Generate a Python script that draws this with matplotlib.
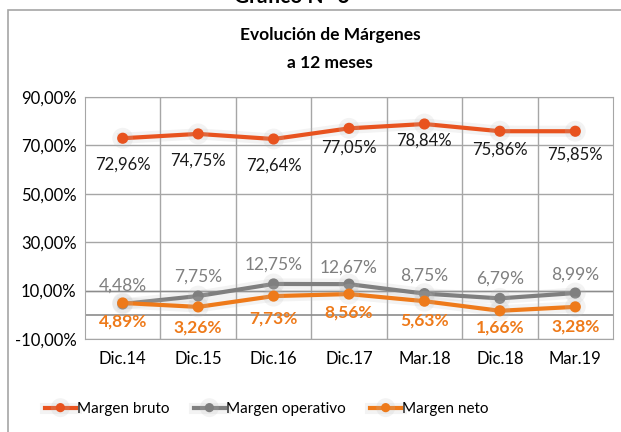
import matplotlib.pyplot as plt
import matplotlib.patheffects as pe
from matplotlib.patches import Rectangle

plt.rcParams['font.family'] = ['Lato', 'DejaVu Sans']

# margins at 12 months, in percent
periodos = ["Dic.14", "Dic.15", "Dic.16", "Dic.17", "Mar.18", "Dic.18", "Mar.19"]
bruto = [72.96, 74.75, 72.64, 77.05, 78.84, 75.86, 75.85]
operativo = [4.48, 7.75, 12.75, 12.67, 8.75, 6.79, 8.99]
neto = [4.89, 3.26, 7.73, 8.56, 5.63, 1.66, 3.28]
yticks = [-10, 10, 30, 50, 70, 90]

# label offsets (points) under / over each marker
off_bruto = [-19, -19, -19, -14, -12, -13, -17]
off_oper = [13, 14, 14, 12, 13, 14, 13]
off_neto = [-13, -15, -16, -13, -14, -12, -14]

c_bruto = "#E8531F"
c_oper = "#7F7F7F"
c_neto = "#EE7A1A"

def fmt(v):
    return ("%.2f%%" % v).replace(".", ",")

fig = plt.figure(figsize=(6.21, 4.32), dpi=100)

# outer frame of the chart object
fig.patches.append(Rectangle((8 / 621, -0.1), 1.2, 1.1 - 10 / 432,
                             transform=fig.transFigure, fill=False,
                             edgecolor="#A6A6A6", linewidth=1.2))

fig.text(0.47, 1 - 3 / 432, "Gráfico N° 6", ha="center", va="baseline",
         fontsize=15, fontweight="bold")
fig.text(0.532, 1 - 35 / 432, "Evolución de Márgenes", ha="center",
         va="center", fontsize=12.5, fontweight="bold")
fig.text(0.532, 1 - 63 / 432, "a 12 meses", ha="center", va="center",
         fontsize=12.5, fontweight="bold")

ax = fig.add_axes([85 / 621, 1 - 339 / 432, 528 / 621, 242 / 432])
x = list(range(len(periodos)))

ax.set_xlim(-0.5, len(periodos) - 0.5)
ax.set_ylim(-10, 90)
ax.set_yticks(yticks)
ax.set_yticklabels([fmt(v) for v in yticks], fontsize=12)
ax.set_xticks(x)
ax.set_xticklabels(periodos, fontsize=12)
ax.tick_params(length=0, pad=9)
ax.tick_params(axis="y", pad=6)

for s in ax.spines.values():
    s.set_color("#A6A6A6")
for yv in yticks:
    ax.axhline(yv, color="#A6A6A6", linewidth=1.0, zorder=0)
for k in range(len(periodos) - 1):
    ax.axvline(k + 0.5, color="#A6A6A6", linewidth=1.0, zorder=0)
ax.axhline(0, color="#8C8C8C", linewidth=1.2, zorder=0)
ax.axhline(10, color="#8C8C8C", linewidth=1.0, zorder=0)

shadow = [pe.Stroke(linewidth=8, foreground="#BDBDBD", alpha=0.18), pe.Normal()]

ax.plot(x, bruto, color=c_bruto, linewidth=3, marker="o", markersize=7,
        label="Margen bruto", path_effects=shadow, zorder=4)
ax.plot(x, operativo, color=c_oper, linewidth=3, marker="o", markersize=7,
        label="Margen operativo", path_effects=shadow, zorder=3)
ax.plot(x, neto, color=c_neto, linewidth=3, marker="o", markersize=7,
        label="Margen neto", path_effects=shadow, zorder=5)

for i in x:
    ax.annotate(fmt(bruto[i]), (i, bruto[i]), xytext=(0, off_bruto[i]),
                textcoords="offset points", ha="center", va="center",
                fontsize=12, color="#1A1A1A", zorder=6)
    ax.annotate(fmt(operativo[i]), (i, operativo[i]), xytext=(0, off_oper[i]),
                textcoords="offset points", ha="center", va="center",
                fontsize=12.5, color=c_oper, zorder=6)
    ax.annotate(fmt(neto[i]), (i, neto[i]), xytext=(0, off_neto[i]),
                textcoords="offset points", ha="center", va="center",
                fontsize=12.5, color=c_neto, fontweight="bold", zorder=6)

fig.legend(loc="center", bbox_to_anchor=(0.43, 1 - 409 / 432), ncol=3,
           frameon=False, fontsize=11, handlelength=2.0, handletextpad=0.1,
           columnspacing=1.6, numpoints=1, markerscale=0.8)

fig.savefig("out.png", dpi=100)
